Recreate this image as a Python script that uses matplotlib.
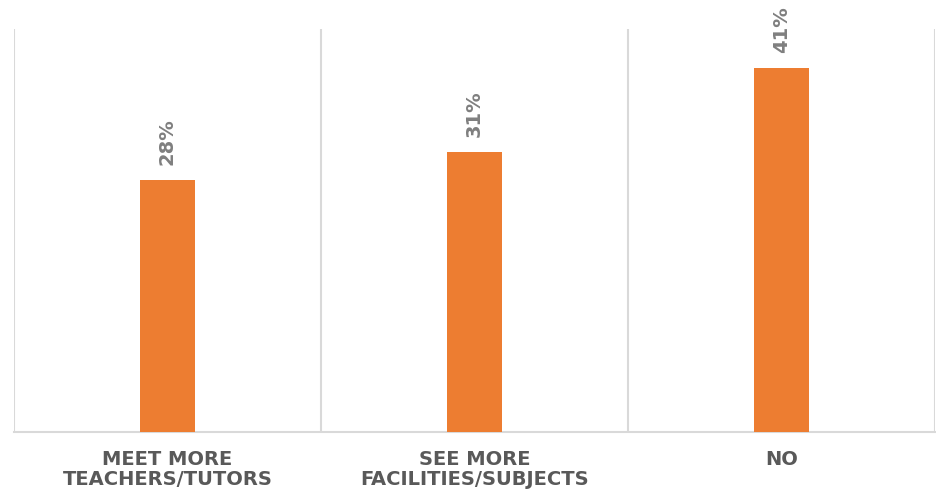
import matplotlib
matplotlib.use("Agg")
import matplotlib.pyplot as plt
import numpy as np

categories = ["MEET MORE\nTEACHERS/TUTORS", "SEE MORE\nFACILITIES/SUBJECTS", "NO"]
values = [28.4, 31.5, 41]
value_labels = ["28%", "31%", "41%"]

fig = plt.figure(figsize=(9.37, 4.93), dpi=100)
ax = fig.add_axes([14/937, 61/493, 921/937, 403/493])

x = np.arange(len(categories))
ax.bar(x, values, width=0.18, color="#ED7D31", zorder=3)
ax.set_xlim(-0.5, len(categories) - 0.5)
ax.set_ylim(0, 45.4)

# category separators
for b in np.arange(-0.5, len(categories), 1.0):
    ax.axvline(b, color="#D9D9D9", lw=1.5, zorder=1)

for s in ["top", "left", "right"]:
    ax.spines[s].set_visible(False)
ax.spines["bottom"].set_color("#D9D9D9")
ax.spines["bottom"].set_linewidth(1.5)
ax.set_yticks([])
ax.set_xticks(x)
ax.set_xticklabels(categories, fontsize=14, fontweight="bold", color="#595959",
                   family="DejaVu Sans", linespacing=1.05)
ax.tick_params(axis="x", length=0, pad=13)

for xi, v, lab in zip(x, values, value_labels):
    ax.annotate(lab, (xi, v), xytext=(0, 11), textcoords="offset points",
                rotation=90, ha="center", va="bottom", fontsize=14,
                fontweight="bold", color="#7F7F7F")

fig.savefig("out.png", dpi=100)
